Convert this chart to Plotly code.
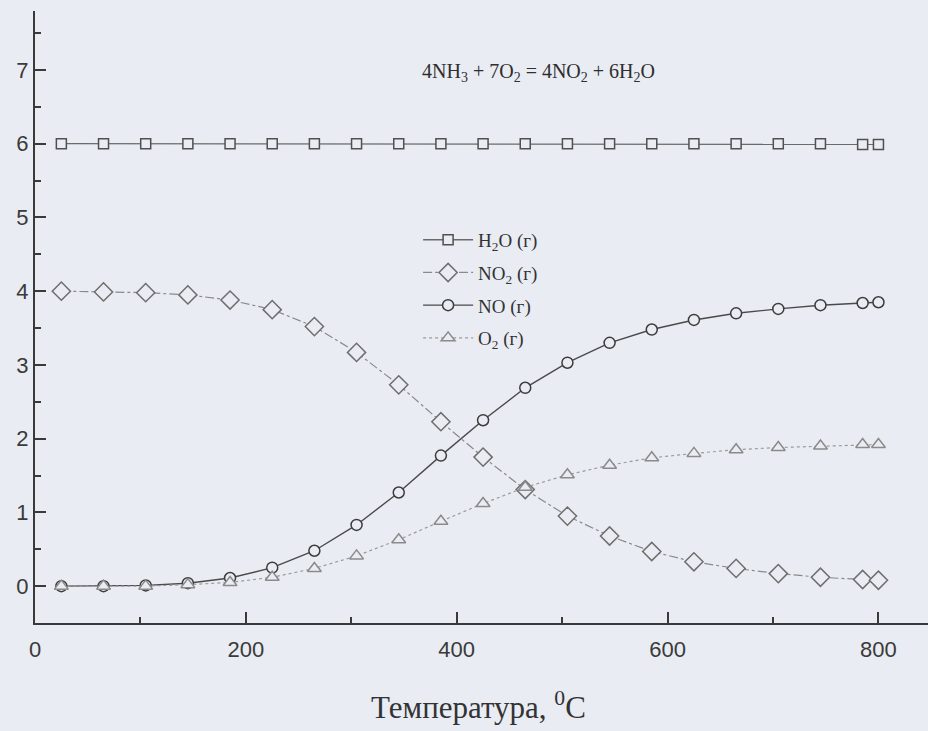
import plotly.graph_objects as go

# Data
temperature = [25, 65, 105, 145, 185, 225, 265, 305, 345, 385, 425, 465, 505, 545, 585, 625, 665, 705, 745, 785, 800]
h2o = [6.0, 6.0, 6.0, 6.0, 6.0, 6.0, 6.0, 6.0, 6.0, 6.0, 6.0, 6.0, 6.0, 6.0, 6.0, 6.0, 6.0, 6.0, 6.0, 5.99, 5.99]
no2 = [4.0, 3.99, 3.98, 3.95, 3.88, 3.75, 3.52, 3.17, 2.73, 2.23, 1.75, 1.31, 0.95, 0.68, 0.47, 0.33, 0.24, 0.17, 0.12, 0.09, 0.08]
no = [0.0, 0.0, 0.01, 0.04, 0.11, 0.25, 0.48, 0.83, 1.27, 1.77, 2.25, 2.69, 3.03, 3.30, 3.48, 3.61, 3.70, 3.76, 3.81, 3.84, 3.85]
o2 = [0.0, 0.0, 0.0, 0.02, 0.05, 0.12, 0.24, 0.41, 0.63, 0.88, 1.12, 1.34, 1.51, 1.64, 1.74, 1.80, 1.85, 1.88, 1.90, 1.92, 1.92]

series_names = ["H<sub>2</sub>O (г)", "NO<sub>2</sub> (г)", "NO (г)", "O<sub>2</sub> (г)"]
x_ticks = [0, 200, 400, 600, 800]
y_ticks = [0, 1, 2, 3, 4, 5, 6, 7]

BG = "#e9ecf3"
SERIF = "Liberation Serif, Times New Roman, serif"
SANS = "Liberation Sans, Arial, sans-serif"

fig = go.Figure()

styles = [
    (h2o, "square", 10, "#505050", "#6a6a6a", "solid", 1.3),
    (no2, "diamond", 14, "#6e6e6e", "#8a8a8a", "dashdot", 1.2),
    (no, "circle", 11, "#3c3c3c", "#4a4a4a", "solid", 1.4),
    (o2, "triangle-up", 12, "#8a8a8a", "#9a9a9a", "dot", 1.2),
]

for i, (vals, sym, size, mcol, lcol, dash, lw) in enumerate(styles):
    fig.add_trace(go.Scatter(
        x=temperature, y=vals, name=series_names[i],
        mode="lines+markers",
        line=dict(color=lcol, width=lw, dash=dash),
        marker=dict(symbol=sym, size=size, color=BG,
                    line=dict(color=mcol, width=1.5)),
        legendgroup=f"g{i}",
    ))

fig.add_annotation(
    x=478, y=6.97, xref="x", yref="y",
    text="4NH<sub>3</sub> + 7O<sub>2</sub> = 4NO<sub>2</sub> + 6H<sub>2</sub>O",
    showarrow=False, font=dict(family=SERIF, size=20, color="#2e2e2e"),
    xanchor="center", yanchor="middle",
)

fig.add_annotation(
    x=(478 - 35) / 893, y=-0.135, xref="paper", yref="paper",
    text="Температура, <sup>0</sup>C",
    showarrow=False, font=dict(family=SERIF, size=31, color="#333333"),
    xanchor="center", yanchor="middle",
)

fig.update_layout(
    width=928, height=731,
    margin=dict(l=35, r=0, t=11, b=108),
    paper_bgcolor=BG, plot_bgcolor=BG,
    showlegend=True,
    legend=dict(
        x=0.429, y=0.657, xanchor="left", yanchor="top",
        bgcolor="rgba(0,0,0,0)",
        font=dict(family=SERIF, size=19, color="#333333"),
        tracegroupgap=5, itemwidth=50,
    ),
    xaxis=dict(
        range=[0, 847], tickvals=x_ticks, ticks="inside", ticklen=11, tickwidth=2,
        tickcolor="#3a3a3a", showline=True, linecolor="#3a3a3a", linewidth=2,
        showgrid=False, zeroline=False, ticklabelstandoff=6,
        minor=dict(dtick=100, tick0=0, ticks="inside", ticklen=6, tickwidth=2, tickcolor="#3a3a3a", showgrid=False),
        tickfont=dict(family=SANS, size=22, color="#3a3a3a"),
    ),
    yaxis=dict(
        range=[-0.5, 7.8], tickvals=y_ticks, ticks="inside", ticklen=11, tickwidth=2,
        tickcolor="#3a3a3a", showline=True, linecolor="#3a3a3a", linewidth=2,
        showgrid=False, zeroline=False,
        minor=dict(dtick=0.5, tick0=0, ticks="inside", ticklen=6, tickwidth=2, tickcolor="#3a3a3a", showgrid=False),
        tickfont=dict(family=SANS, size=22, color="#3a3a3a"),
    ),
)

fig.write_html("out.html")
